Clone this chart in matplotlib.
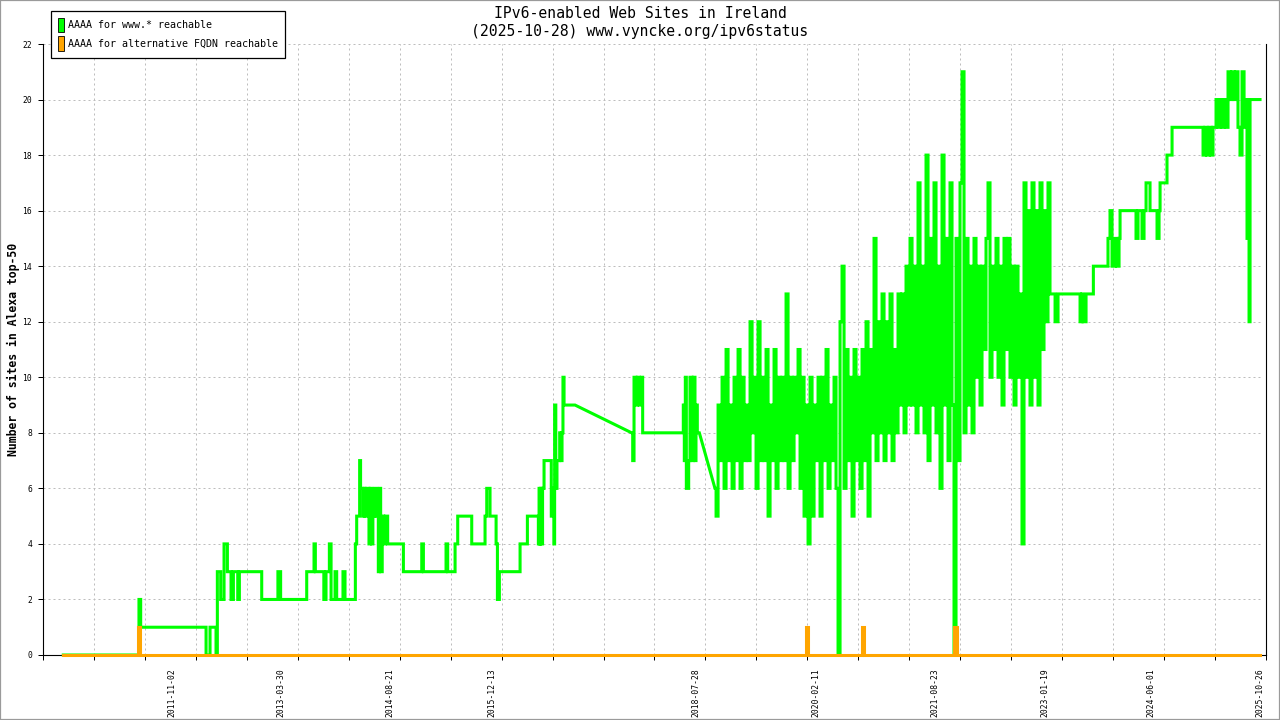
import datetime as dt
import numpy as np
import matplotlib
matplotlib.use("Agg")
import matplotlib.pyplot as plt
from matplotlib.patches import Patch, Rectangle

# ---------------- text ----------------
title_line1 = "IPv6-enabled Web Sites in Ireland"
title_line2 = "(2025-10-28) www.vyncke.org/ipv6status"
y_label = "Number of sites in Alexa top-50"
series_names = ["AAAA for www.* reachable", "AAAA for alternative FQDN reachable"]
tick_dates = ["2011-11-02", "2013-03-30", "2014-08-21", "2015-12-13", "2018-07-28",
              "2020-02-11", "2021-08-23", "2023-01-19", "2024-06-01", "2025-10-26"]
y_ticks = list(range(0, 23, 2))

# axis range (decimal years) and number of grid ticks
x_range = (2010.186, 2025.890)
n_grid_ticks = 25
end_time = 2025.817

# ---------------- data (decimal year, value; step changes) ----------------
green_t_a = [2010.443, 2011.415, 2011.437, 2012.277, 2012.328, 2012.405, 2012.422, 2012.465, 2012.508, 2012.551,
             2012.598, 2012.628, 2012.684, 2012.705, 2012.992, 2013.200, 2013.235, 2013.570, 2013.664, 2013.681,
             2013.790, 2013.818, 2013.861, 2013.883, 2013.934, 2013.955, 2014.036, 2014.062, 2014.195, 2014.212,
             2014.250, 2014.262, 2014.290, 2014.305, 2014.320, 2014.335, 2014.370, 2014.385, 2014.405, 2014.420,
             2014.440, 2014.470, 2014.490, 2014.505, 2014.520, 2014.540, 2014.560, 2014.580, 2014.610, 2014.812,
             2015.048, 2015.069, 2015.360, 2015.381, 2015.476, 2015.510, 2015.690, 2015.861, 2015.883, 2015.925,
             2016.003, 2016.020, 2016.045, 2016.311, 2016.405, 2016.546, 2016.555, 2016.565, 2016.575, 2016.585,
             2016.600, 2016.619, 2016.712, 2016.730, 2016.745, 2016.755, 2016.770, 2016.785, 2016.820, 2016.835,
             2016.850, 2016.862, 2016.876, 2017.017]
green_v_a = [0, 2, 1, 0, 1, 0, 3, 2, 4, 3,
             2, 3, 2, 3, 2, 3, 2, 3, 4, 3,
             2, 3, 4, 2, 3, 2, 3, 2, 4, 5,
             7, 6, 5, 6, 5, 6, 4, 6, 4, 5,
             6, 5, 3, 6, 3, 5, 4, 5, 4, 3,
             4, 3, 4, 3, 4, 5, 4, 5, 6, 5,
             4, 2, 3, 4, 5, 4, 6, 4, 6, 4,
             6, 7, 5, 6, 4, 9, 6, 7, 8, 7,
             8, 10, 9, 9]

green_t_b = [2017.745, 2017.758, 2017.775, 2017.800, 2017.817, 2017.843, 2017.869, 2017.886, 2018.408, 2018.421,
             2018.434, 2018.447, 2018.477, 2018.494, 2018.520, 2018.537, 2018.558, 2018.571, 2018.588, 2018.614,
             2018.815]
green_v_b = [8, 7, 10, 9, 10, 9, 10, 8, 9, 7,
             10, 6, 7, 10, 7, 10, 7, 9, 8, 8,
             6]

# periods without samples: the line goes straight from this point to the next one
green_gap_starts = [2017.017, 2018.614]

# densely sampled period (regular samples)
dense_start, dense_end = 2018.829, 2023.119
dense_vals = [5, 9, 7, 10, 6, 11, 7, 9, 6, 10,
              7, 11, 6, 10, 7, 9, 7, 12, 8, 10,
              6, 12, 7, 10, 7, 11, 5, 9, 7, 11,
              6, 10, 7, 10, 7, 13, 6, 10, 7, 10,
              8, 11, 6, 10, 5, 9, 4, 10, 5, 9,
              7, 10, 5, 10, 7, 11, 6, 9, 7, 10,
              6, 0, 12, 14, 6, 11, 7, 10, 5, 11,
              7, 10, 6, 11, 7, 12, 5, 11, 8, 15,
              7, 12, 8, 13, 7, 12, 8, 13, 7, 11,
              8, 13, 9, 13, 8, 14, 9, 15, 9, 14,
              8, 17, 9, 14, 8, 18, 7, 15, 9, 17,
              8, 14, 6, 18, 9, 15, 7, 17, 9, 0,
              15, 7, 17, 21, 8, 15, 9, 14, 8, 15,
              10, 14, 9, 14, 11, 15, 17, 10, 14, 11,
              15, 10, 14, 9, 15, 11, 15, 10, 14, 9,
              14, 10, 13, 4, 17, 10, 16, 9, 17, 10,
              16, 9, 17, 11, 16, 12, 17, 13]

green_t_late = [2023.184, 2023.222, 2023.505, 2023.531, 2023.543, 2023.582, 2023.676, 2023.864, 2023.890, 2023.916,
                2023.954, 2023.980, 2024.006, 2024.019, 2024.224, 2024.250, 2024.301, 2024.327, 2024.353, 2024.404,
                2024.494, 2024.520, 2024.533, 2024.622, 2024.687, 2025.085, 2025.111, 2025.136, 2025.162, 2025.188,
                2025.213, 2025.252, 2025.278, 2025.303, 2025.329, 2025.355, 2025.380, 2025.406, 2025.432, 2025.457,
                2025.483, 2025.509, 2025.534, 2025.560, 2025.586, 2025.612, 2025.637, 2025.650, 2025.663, 2025.676,
                2025.689]
green_v_late = [12, 13, 12, 13, 12, 13, 14, 15, 16, 14,
                15, 14, 15, 16, 15, 16, 15, 16, 17, 16,
                15, 16, 17, 18, 19, 18, 19, 18, 19, 18,
                19, 20, 19, 20, 19, 20, 19, 21, 20, 21,
                20, 21, 19, 18, 21, 19, 20, 15, 20, 12,
                20]

orange_t = [2010.443, 2011.409, 2011.432, 2019.985, 2020.011, 2020.704, 2020.723, 2021.892, 2021.918]
orange_v = [0, 1, 0, 1, 0, 1, 0, 1, 0]

GREEN = "#00ff00"
ORANGE = "#ffa500"
GRID = "#bdbdbd"
MONO = "DejaVu Sans Mono"


def decimal_year(s):
    d = dt.date.fromisoformat(s)
    y0 = dt.date(d.year, 1, 1)
    n = (dt.date(d.year + 1, 1, 1) - y0).days
    return d.year + (d - y0).days / n


def step_vertices(t, v, t_end, gap_starts=()):
    xs, ys = [], []
    for i in range(len(t)):
        xs.append(t[i]); ys.append(v[i])
        if t[i] in gap_starts:
            continue
        nxt = t[i + 1] if i + 1 < len(t) else t_end
        xs.append(nxt); ys.append(v[i])
    return xs, ys


dense_t = list(np.linspace(dense_start, dense_end, len(dense_vals)))
g_t = green_t_a + green_t_b + dense_t + green_t_late
g_v = green_v_a + green_v_b + dense_vals + green_v_late
gx, gy = step_vertices(g_t, g_v, end_time, green_gap_starts)
ox, oy = step_vertices(orange_t, orange_v, end_time)

W, H = 1280, 720
fig = plt.figure(figsize=(W / 100, H / 100), dpi=100)
fig.patch.set_facecolor("white")
ax = fig.add_axes([43.3 / W, 65 / H, (1265.7 - 43.3) / W, (655 - 44) / H])

ax.plot(gx, gy, color=GREEN, lw=2.2, solid_joinstyle="miter", clip_on=False, zorder=3)
ax.plot(ox, oy, color=ORANGE, lw=2.2, solid_joinstyle="miter", clip_on=False, zorder=4)

ax.set_xlim(*x_range)
ax.set_ylim(0, 22)

# y axis
ax.set_yticks(y_ticks)
ax.set_yticklabels([str(v) for v in y_ticks], fontsize=5.8, family=MONO)
ax.tick_params(axis="y", direction="out", length=3.6, width=0.72, pad=4.5, colors="black")

# x axis: grid ticks (unlabelled) + date labels
grid_ticks = np.linspace(x_range[0], x_range[1], n_grid_ticks)
ax.set_xticks([decimal_year(s) for s in tick_dates])
ax.set_xticklabels(tick_dates, rotation=90, fontsize=5.8, family=MONO, va="top", ha="center")
ax.set_xticks(grid_ticks, minor=True)
ax.tick_params(axis="x", which="major", length=0, pad=9.5)
ax.tick_params(axis="x", which="minor", direction="out", length=3.6, width=0.72)

ax.grid(False)
for gt in grid_ticks[1:-1]:
    ax.axvline(gt, color=GRID, lw=0.72, ls=(0, (2, 3)), zorder=1)
for yt in y_ticks[1:]:
    ax.axhline(yt, xmax=0.997, color=GRID, lw=0.72, ls=(0, (2, 3)), zorder=1)

for side in ("left", "right", "bottom"):
    ax.spines[side].set_color("black")
    ax.spines[side].set_linewidth(0.8)
ax.spines["top"].set_visible(False)

# titles and axis label
fig.text(0.5, 1 - 13 / H, title_line1, ha="center", va="center", fontsize=10.6, family=MONO)
fig.text(0.5, 1 - 31.5 / H, title_line2, ha="center", va="center", fontsize=10.6, family=MONO)
fig.text(13 / W, 1 - 349 / H, y_label, rotation=90, ha="center", va="center",
         fontsize=8.3, family=MONO, fontweight="bold")

handles = [Patch(facecolor=GREEN, edgecolor="black", linewidth=0.6),
           Patch(facecolor=ORANGE, edgecolor="black", linewidth=0.6)]
leg = fig.legend(handles, series_names, loc="upper left", bbox_to_anchor=(50.5 / W, 1 - 10.5 / H),
                 bbox_transform=fig.transFigure, borderaxespad=0, fancybox=False, framealpha=1,
                 edgecolor="black", handlelength=0.6, handleheight=1.9, handletextpad=0.45,
                 labelspacing=0.35, borderpad=0.7, prop={"family": MONO, "size": 7.2})
leg.get_frame().set_linewidth(0.9)

fig.patches.append(Rectangle((0, 0), 1, 1, transform=fig.transFigure, fill=False,
                             edgecolor="#9a9a9a", linewidth=1.6))

fig.savefig("out.png", dpi=100, facecolor="white")
